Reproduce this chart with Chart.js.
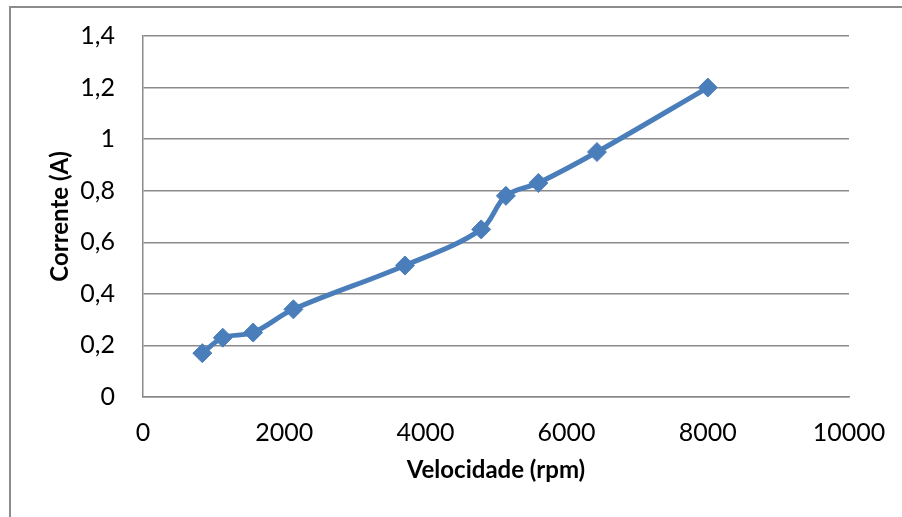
<!DOCTYPE html>
<html>
<head>
<meta charset="utf-8">
<script src="https://cdn.jsdelivr.net/npm/chart.js@4.4.1/dist/chart.umd.min.js"></script>
<style>
  html, body { margin: 0; padding: 0; background: #fff; }
  #wrap { position: relative; width: 902px; height: 517px; overflow: hidden; }
  #frame { position: absolute; left: 9px; top: 6px; width: 900px; height: 520px;
           border-top: 2px solid #8c8c8c; border-left: 2px solid #8c8c8c; }
  canvas { position: absolute; left: 0; top: 0; }
</style>
</head>
<body>
<div id="wrap">
  <div id="frame"></div>
  <canvas id="c" width="902" height="517"></canvas>
</div>
<script>
// Data
const velocidadeRpm = [840, 1130, 1560, 2130, 3710, 4790, 5140, 5600, 6430, 8000];
const correnteA    = [0.17, 0.23, 0.25, 0.34, 0.51, 0.65, 0.78, 0.83, 0.95, 1.2];

// Axis tick labels
const xTickValues = [0, 2000, 4000, 6000, 8000, 10000];
const xTickLabels = ['0', '2000', '4000', '6000', '8000', '10000'];
const yTickValues = [0, 0.2, 0.4, 0.6, 0.8, 1, 1.2, 1.4];
const yTickLabels = ['0', '0,2', '0,4', '0,6', '0,8', '1', '1,2', '1,4'];

const xTitle = 'Velocidade (rpm)';
const yTitle = 'Corrente (A)';

const points = velocidadeRpm.map((v, i) => ({ x: v, y: correnteA[i] }));

const FONT = 'Lato, "Open Sans", sans-serif';
const GRID = '#8a8a8a';
const BLUE = '#4a7ebb';

function lookup(values, labels, v) {
  for (let i = 0; i < values.length; i++) {
    if (Math.abs(values[i] - v) < 1e-6) return labels[i];
  }
  return '';
}

function clearPad(s) {
  s.paddingTop = 0; s.paddingBottom = 0; s.paddingLeft = 0; s.paddingRight = 0;
}

new Chart(document.getElementById('c'), {
  type: 'scatter',
  data: {
    datasets: [{
      data: points,
      showLine: true,
      borderColor: BLUE,
      backgroundColor: BLUE,
      borderWidth: 5,
      tension: 0.35,
      pointStyle: 'rectRot',
      pointRadius: 9.5,
      pointBorderWidth: 1,
      pointBorderColor: BLUE,
      pointBackgroundColor: BLUE
    }]
  },
  options: {
    responsive: false,
    animation: false,
    devicePixelRatio: 1,
    layout: { padding: { left: 0, top: 36, right: 53, bottom: 0 } },
    plugins: { legend: { display: false }, tooltip: { enabled: false } },
    scales: {
      x: {
        type: 'linear',
        min: 0, max: 10000,
        afterBuildTicks: (s) => { s.ticks = xTickValues.map(v => ({ value: v })); },
        afterFit: (s) => { s.height = 120; clearPad(s); },
        grid: { display: false, drawTicks: false },
        border: { display: true, color: GRID, width: 1.5 },
        ticks: {
          padding: 21,
          color: '#000',
          font: { family: FONT, size: 25 },
          maxRotation: 0,
          callback: (v) => lookup(xTickValues, xTickLabels, v)
        },
        title: {
          display: true,
          text: xTitle,
          color: '#000',
          font: { family: FONT, size: 24, weight: 'bold' },
          padding: { top: 0, bottom: 32 }
        }
      },
      y: {
        type: 'linear',
        min: 0, max: 1.4,
        afterBuildTicks: (s) => { s.ticks = yTickValues.map(v => ({ value: v })); },
        afterFit: (s) => { s.width = 143; clearPad(s); },
        grid: { color: GRID, lineWidth: 1.5, drawTicks: false },
        border: { display: true, color: GRID, width: 1.5 },
        ticks: {
          padding: 28,
          color: '#000',
          font: { family: FONT, size: 25 },
          callback: (v) => lookup(yTickValues, yTickLabels, v)
        },
        title: {
          display: true,
          text: yTitle,
          color: '#000',
          font: { family: FONT, size: 24, weight: 'bold' },
          padding: { top: 46, bottom: 0 }
        }
      }
    }
  }
});
</script>
</body>
</html>
